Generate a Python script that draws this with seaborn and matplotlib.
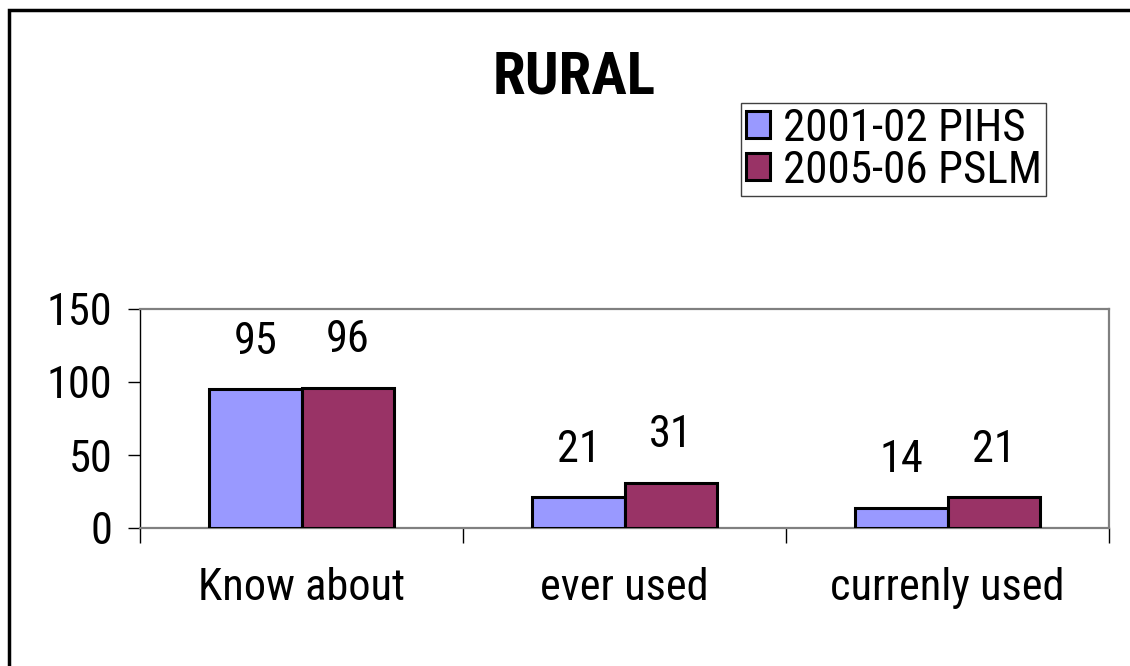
import pandas as pd
import matplotlib
matplotlib.use("Agg")
import matplotlib.pyplot as plt
from matplotlib import font_manager
from matplotlib.patches import Rectangle
import seaborn as sns

# --- dados ---
categories = ["Know about", "ever used", "currenly used"]
surveys = ["2001-02 PIHS", "2005-06 PSLM"]
pihs_values = [95, 21, 14]
pslm_values = [96, 31, 21]
y_ticks = [0, 50, 100, 150]
colors = ["#9999FF", "#993366"]

df = pd.DataFrame({
    "categoria": categories * 2,
    "valor": pihs_values + pslm_values,
    "pesquisa": [surveys[0]] * 3 + [surveys[1]] * 3,
})

sns.set_style("white")

# procurar uma fonte estreita (o original usa Arial comprimido)
fam, stretch = "Liberation Sans", "normal"
narrow = [f for f in font_manager.fontManager.ttflist
          if f.style == "normal" and ("Narrow" in f.name or "Condensed" in f.name
                                      or f.stretch in ("condensed", "semi-condensed"))]
for pref in ["Liberation Sans Narrow", "Arial Narrow", "Noto Sans", "Roboto", "Open Sans", "DejaVu Sans"]:
    hit = [f for f in narrow if f.name.startswith(pref)]
    if hit:
        fam, stretch = hit[0].name, hit[0].stretch
        break

plt.rcParams["font.family"] = [fam, "DejaVu Sans"]
plt.rcParams["font.stretch"] = stretch
plt.rcParams["text.color"] = "black"
plt.rcParams["xtick.color"] = "black"
plt.rcParams["ytick.color"] = "black"
plt.rcParams["axes.labelcolor"] = "black"

W, H = 1130, 666
fig = plt.figure(figsize=(W / 100, H / 100), dpi=100)

# ajustar o tamanho da fonte pela largura medida no original
def largura(txt, size, weight="normal"):
    t = fig.text(0, 0, txt, fontsize=size, fontweight=weight)
    fig.canvas.draw()
    w = t.get_window_extent().width
    t.remove()
    return w

r = 203 / largura("Know about", 33.5)
fs = 33.5 * r ** 0.7
r_leg = 241 / largura("2001-02 PIHS", 33.5)
fs_leg = 33.5 * r_leg ** 0.8
r_tit = 167 / largura("RURAL", 39, "bold")
fs_tit = 39 * r_tit ** 0.8

ax = fig.add_axes([140 / W, 1 - 528 / H, (1109 - 140) / W, (528 - 309) / H])

sns.barplot(data=df, x="categoria", y="valor", hue="pesquisa", palette=colors,
            width=0.57, edgecolor="black", linewidth=2.2, saturation=1,
            ax=ax, zorder=3)

for cont in ax.containers:
    ax.bar_label(cont, padding=19, fontsize=fs)

ax.set_xlim(-0.5, 2.5)
ax.set_ylim(0, 150)
ax.set_yticks(y_ticks)
ax.set_xlabel("")
ax.set_ylabel("")

# eixos
ax.tick_params(axis="y", direction="out", length=8.6, width=1, color="black",
               labelsize=fs, pad=11.5, left=True)
ax.tick_params(axis="x", which="major", length=0, labelsize=fs, pad=28)
ax.set_xticks([-0.5, 0.5, 1.5, 2.5], minor=True)
ax.tick_params(axis="x", which="minor", direction="out", length=11, width=1,
               color="black", bottom=True)

for s in ["top", "right", "bottom"]:
    ax.spines[s].set_color("#808080")
    ax.spines[s].set_linewidth(1.6)
ax.spines["left"].set_color("black")
ax.spines["left"].set_linewidth(1)

# legenda
handles, labels = ax.get_legend_handles_labels()
px = fs_leg / 0.72
leg = ax.legend(handles, labels, loc="upper left",
                bbox_to_anchor=(741 / W, 1 - 103 / H), bbox_transform=fig.transFigure,
                borderaxespad=0, fontsize=fs_leg, frameon=True, fancybox=False,
                edgecolor="#404040", framealpha=1, labelspacing=0,
                handlelength=24 / px, handleheight=25 / px, handletextpad=13 / px,
                borderpad=0.1)
leg.get_frame().set_linewidth(1)

# título
fig.text(574 / W, 1 - 94 / H, "RURAL", ha="center", va="baseline",
         fontsize=fs_tit, fontweight="bold")

# moldura externa
fig.add_artist(Rectangle((9 / W, -0.5), 2, (1 - 10 / H) + 0.5, transform=fig.transFigure,
                         fill=False, lw=2.5, ec="black", clip_on=False))

plt.savefig("out.png", dpi=100)
plt.close()
